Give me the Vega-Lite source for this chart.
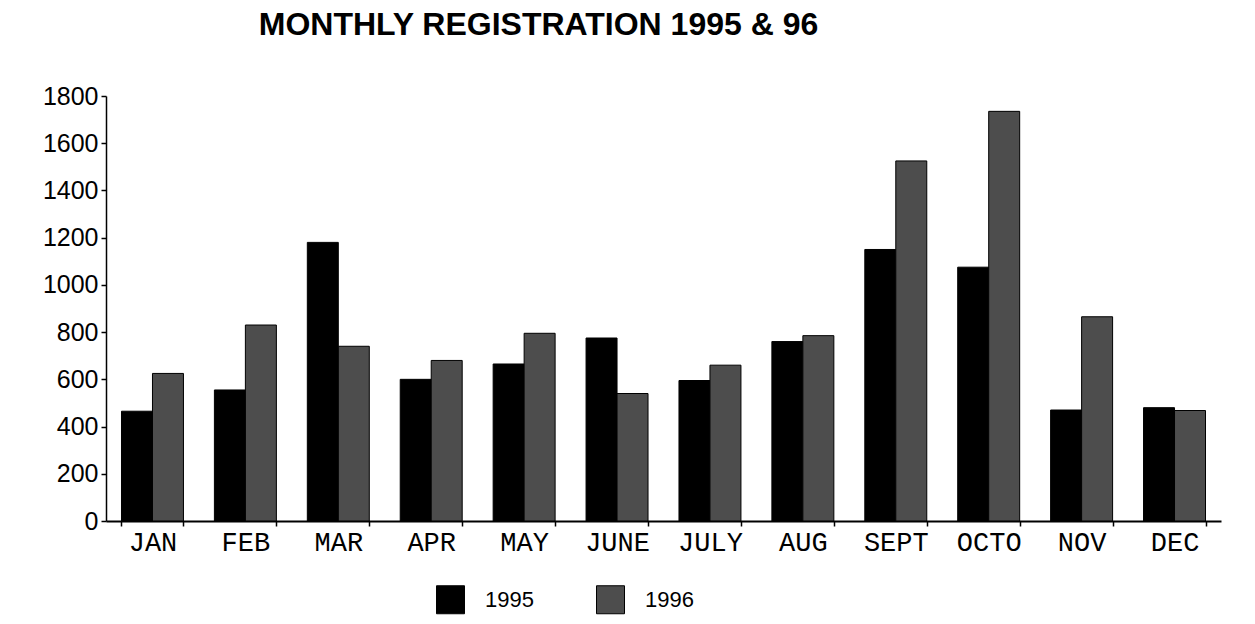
{
  "$schema": "https://vega.github.io/schema/vega-lite/v6.json",
  "width": 1115,
  "height": 425,
  "autosize": {"type": "none"},
  "padding": {"left": 106, "top": 96, "right": 34, "bottom": 103},
  "background": "white",
  "title": {
    "text": "MONTHLY REGISTRATION 1995 & 96",
    "font": "Liberation Sans",
    "fontSize": 32,
    "fontWeight": "bold",
    "color": "black",
    "anchor": "middle",
    "dx": -125,
    "offset": 42
  },
  "data": {
    "values": [
      {"month": "JAN", "year": "1995", "count": 465},
      {"month": "JAN", "year": "1996", "count": 625},
      {"month": "FEB", "year": "1995", "count": 555},
      {"month": "FEB", "year": "1996", "count": 830},
      {"month": "MAR", "year": "1995", "count": 1180},
      {"month": "MAR", "year": "1996", "count": 740},
      {"month": "APR", "year": "1995", "count": 600},
      {"month": "APR", "year": "1996", "count": 680},
      {"month": "MAY", "year": "1995", "count": 665},
      {"month": "MAY", "year": "1996", "count": 795},
      {"month": "JUNE", "year": "1995", "count": 775},
      {"month": "JUNE", "year": "1996", "count": 540},
      {"month": "JULY", "year": "1995", "count": 595},
      {"month": "JULY", "year": "1996", "count": 660},
      {"month": "AUG", "year": "1995", "count": 760},
      {"month": "AUG", "year": "1996", "count": 785},
      {"month": "SEPT", "year": "1995", "count": 1150},
      {"month": "SEPT", "year": "1996", "count": 1525},
      {"month": "OCTO", "year": "1995", "count": 1075},
      {"month": "OCTO", "year": "1996", "count": 1735},
      {"month": "NOV", "year": "1995", "count": 470},
      {"month": "NOV", "year": "1996", "count": 865},
      {"month": "DEC", "year": "1995", "count": 480},
      {"month": "DEC", "year": "1996", "count": 468}
    ]
  },
  "mark": {"type": "bar", "stroke": "black", "strokeWidth": 1},
  "encoding": {
    "x": {
      "field": "month",
      "type": "nominal",
      "sort": ["JAN", "FEB", "MAR", "APR", "MAY", "JUNE", "JULY", "AUG", "SEPT", "OCTO", "NOV", "DEC"],
      "scale": {"paddingInner": 0.333, "paddingOuter": 0.1667},
      "axis": {
        "title": null,
        "labelAngle": 0,
        "labelFont": "Liberation Mono",
        "labelFontSize": 27,
        "labelColor": "black",
        "labelPadding": 3,
        "tickBand": "extent",
        "tickSize": 5,
        "tickColor": "black",
        "tickWidth": 1.5,
        "domainColor": "black",
        "domainWidth": 2
      }
    },
    "xOffset": {"field": "year", "type": "nominal"},
    "y": {
      "field": "count",
      "type": "quantitative",
      "scale": {"domain": [0, 1800], "nice": false},
      "axis": {
        "title": null,
        "values": [0, 200, 400, 600, 800, 1000, 1200, 1400, 1600, 1800],
        "format": "d",
        "grid": false,
        "labelFont": "Liberation Sans",
        "labelFontSize": 25,
        "labelColor": "black",
        "labelPadding": 3,
        "tickSize": 5,
        "tickColor": "black",
        "tickWidth": 1.5,
        "domainColor": "black",
        "domainWidth": 1.5
      }
    },
    "color": {
      "field": "year",
      "type": "nominal",
      "scale": {"domain": ["1995", "1996"], "range": ["#000000", "#4d4d4d"]},
      "legend": {
        "title": null,
        "orient": "none",
        "legendX": 330,
        "legendY": 489,
        "direction": "horizontal",
        "symbolType": "square",
        "symbolSize": 784,
        "symbolStrokeColor": "black",
        "symbolStrokeWidth": 1,
        "symbolOpacity": 1,
        "labelFont": "Liberation Sans",
        "labelFontSize": 22,
        "labelColor": "black",
        "labelOffset": 20,
        "columnPadding": 60
      }
    }
  },
  "config": {"view": {"stroke": null}}
}
